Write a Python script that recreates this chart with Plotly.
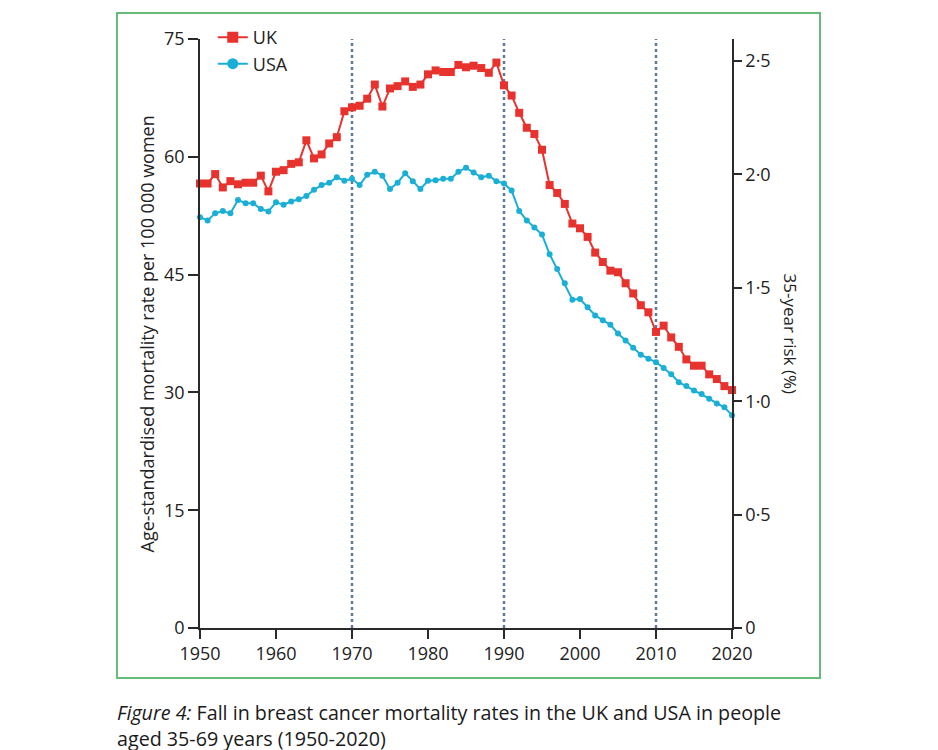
import plotly.graph_objects as go

years = list(range(1950, 2021))
uk = [56.6, 56.6, 57.8, 56.1, 56.9, 56.5, 56.7, 56.7, 57.6, 55.6,
      58.1, 58.3, 59.1, 59.3, 62.1, 59.8, 60.3, 61.7, 62.5, 65.8,
      66.3, 66.5, 67.4, 69.2, 66.4, 68.7, 69.0, 69.6, 68.9, 69.2,
      70.5, 71.0, 70.8, 70.8, 71.7, 71.4, 71.6, 71.3, 70.7, 72.0,
      69.1, 67.8, 65.6, 63.7, 62.9, 60.9, 56.4, 55.4, 54.0, 51.5,
      50.9, 49.8, 47.8, 46.6, 45.5, 45.3, 43.9, 42.6, 41.1, 40.2,
      37.7, 38.5, 37.0, 35.8, 34.2, 33.4, 33.4, 32.3, 31.7, 30.8,
      30.3]
usa = [52.3, 51.9, 52.8, 53.1, 52.8, 54.5, 54.1, 54.1, 53.35, 53.05,
       54.2, 53.9, 54.3, 54.6, 55.0, 55.8, 56.4, 56.7, 57.4, 56.95,
       57.2, 56.4, 57.7, 58.1, 57.6, 55.9, 56.7, 57.9, 56.9, 55.9,
       56.95, 57.0, 57.2, 57.2, 58.1, 58.6, 58.0, 57.4, 57.6, 56.9,
       56.6, 55.7, 53.1, 51.9, 51.0, 50.1, 47.6, 45.7, 43.9, 41.8,
       41.9, 40.85, 39.8, 39.2, 38.6, 37.5, 36.6, 35.7, 34.8, 34.3,
       33.85, 33.1, 32.3, 31.3, 30.8, 30.25, 29.8, 29.2, 28.6, 28.1,
       27.1]
ref_years = [1970, 1990, 2010]
x_ticks = [1950, 1960, 1970, 1980, 1990, 2000, 2010, 2020]
left_ticks = [0, 15, 30, 45, 60, 75]
right_tickvals = [0, 0.5, 1.0, 1.5, 2.0, 2.5]
right_ticktext = ["0", "0·5", "1·0", "1·5", "2·0", "2·5"]
left_title = "Age-standardised mortality rate per 100 000 women"
right_title = "35-year risk (%)"
caption_l1 = "<i>Figure 4:</i> Fall in breast cancer mortality rates in the UK and USA in people"
caption_l2 = "aged 35-69 years (1950-2020)"

RED = "#e8322e"
CYAN = "#1aafd6"
FONT = "Open Sans, Noto Sans, sans-serif"
AX = "#2a2a2a"

fig = go.Figure()
fig.add_trace(go.Scatter(x=years, y=uk, mode="lines+markers", name="UK",
                         line=dict(color=RED, width=2),
                         marker=dict(symbol="square", size=8, color=RED),
                         cliponaxis=False, showlegend=False))
fig.add_trace(go.Scatter(x=years, y=usa, mode="lines+markers", name="USA",
                         line=dict(color=CYAN, width=2),
                         marker=dict(symbol="circle", size=6, color=CYAN),
                         cliponaxis=False, showlegend=False))
# legend entries
fig.add_trace(go.Scatter(x=[None], y=[None], mode="lines+markers", name="UK",
                         line=dict(color=RED, width=2),
                         marker=dict(symbol="square", size=11, color=RED)))
fig.add_trace(go.Scatter(x=[None], y=[None], mode="lines+markers", name="USA",
                         line=dict(color=CYAN, width=2),
                         marker=dict(symbol="circle", size=11, color=CYAN)))
# right axis carrier
fig.add_trace(go.Scatter(x=[None], y=[None], yaxis="y2", showlegend=False,
                         hoverinfo="skip"))

for yr in ref_years:
    fig.add_shape(type="line", xref="x", yref="paper", x0=yr, x1=yr, y0=0, y1=1,
                  line=dict(color="#5b7a99", width=2.5, dash="dot"), layer="below")

# page body margin offset of 8px
OFF = 8
W, H = 938, 750
L, T = 200 - OFF, 38 - OFF
R = W - (732 - OFF)
B = H - (628 - OFF)
pw, ph = W - L - R, H - T - B


def px(xp):
    return (xp - OFF - L) / pw


def py(yp):
    return (H - B - (yp - OFF)) / ph


fig.add_shape(type="rect", xref="paper", yref="paper",
              x0=px(117), x1=px(820), y0=py(678), y1=py(12),
              line=dict(color="#66bb78", width=2), fillcolor="rgba(0,0,0,0)",
              layer="below")

fig.add_annotation(text=left_title, xref="paper", yref="paper", x=px(147), y=py(334),
                   textangle=-90, showarrow=False, xanchor="center", yanchor="middle",
                   font=dict(family=FONT, size=18, color="#222"))
fig.add_annotation(text=right_title, xref="paper", yref="paper", x=px(790), y=py(333),
                   textangle=90, showarrow=False, xanchor="center", yanchor="middle",
                   font=dict(family=FONT, size=17, color="#222"))
fig.add_annotation(text=caption_l1 + "<br>" + caption_l2, xref="paper", yref="paper",
                   x=px(115), y=py(697), xanchor="left", yanchor="top", align="left",
                   showarrow=False,
                   font=dict(family=FONT, size=19.7, color="#1a1a1a"))

fig.update_layout(
    width=W, height=H,
    margin=dict(l=L, r=R, t=T, b=B),
    paper_bgcolor="white", plot_bgcolor="white",
    font=dict(family=FONT, color="#222"),
    xaxis=dict(range=[1950, 2020], tickvals=x_ticks, showgrid=False, zeroline=False,
               showline=True, linecolor=AX, linewidth=1.5, ticks="outside",
               ticklen=9, tickwidth=1.5, tickcolor=AX,
               tickfont=dict(family=FONT, size=18, color="#222")),
    yaxis=dict(range=[0, 75], tickvals=left_ticks, showgrid=False, zeroline=False,
               showline=True, linecolor=AX, linewidth=1.5, ticks="outside",
               ticklen=10, tickwidth=1.5, tickcolor=AX,
               tickfont=dict(family=FONT, size=18, color="#222")),
    yaxis2=dict(range=[0, 2.5 * 590 / 568], overlaying="y", side="right",
                tickvals=right_tickvals, ticktext=right_ticktext,
                showgrid=False, zeroline=False, showline=True, linecolor=AX,
                linewidth=1.5, ticks="outside", ticklen=8, tickwidth=1.5,
                tickcolor=AX, tickfont=dict(family=FONT, size=18, color="#222")),
    legend=dict(x=0.024, y=1.032, xanchor="left", yanchor="top",
                bgcolor="rgba(0,0,0,0)", font=dict(family=FONT, size=18, color="#222"),
                itemwidth=30, tracegroupgap=0),
    showlegend=True,
)

fig.write_html("out.html")
